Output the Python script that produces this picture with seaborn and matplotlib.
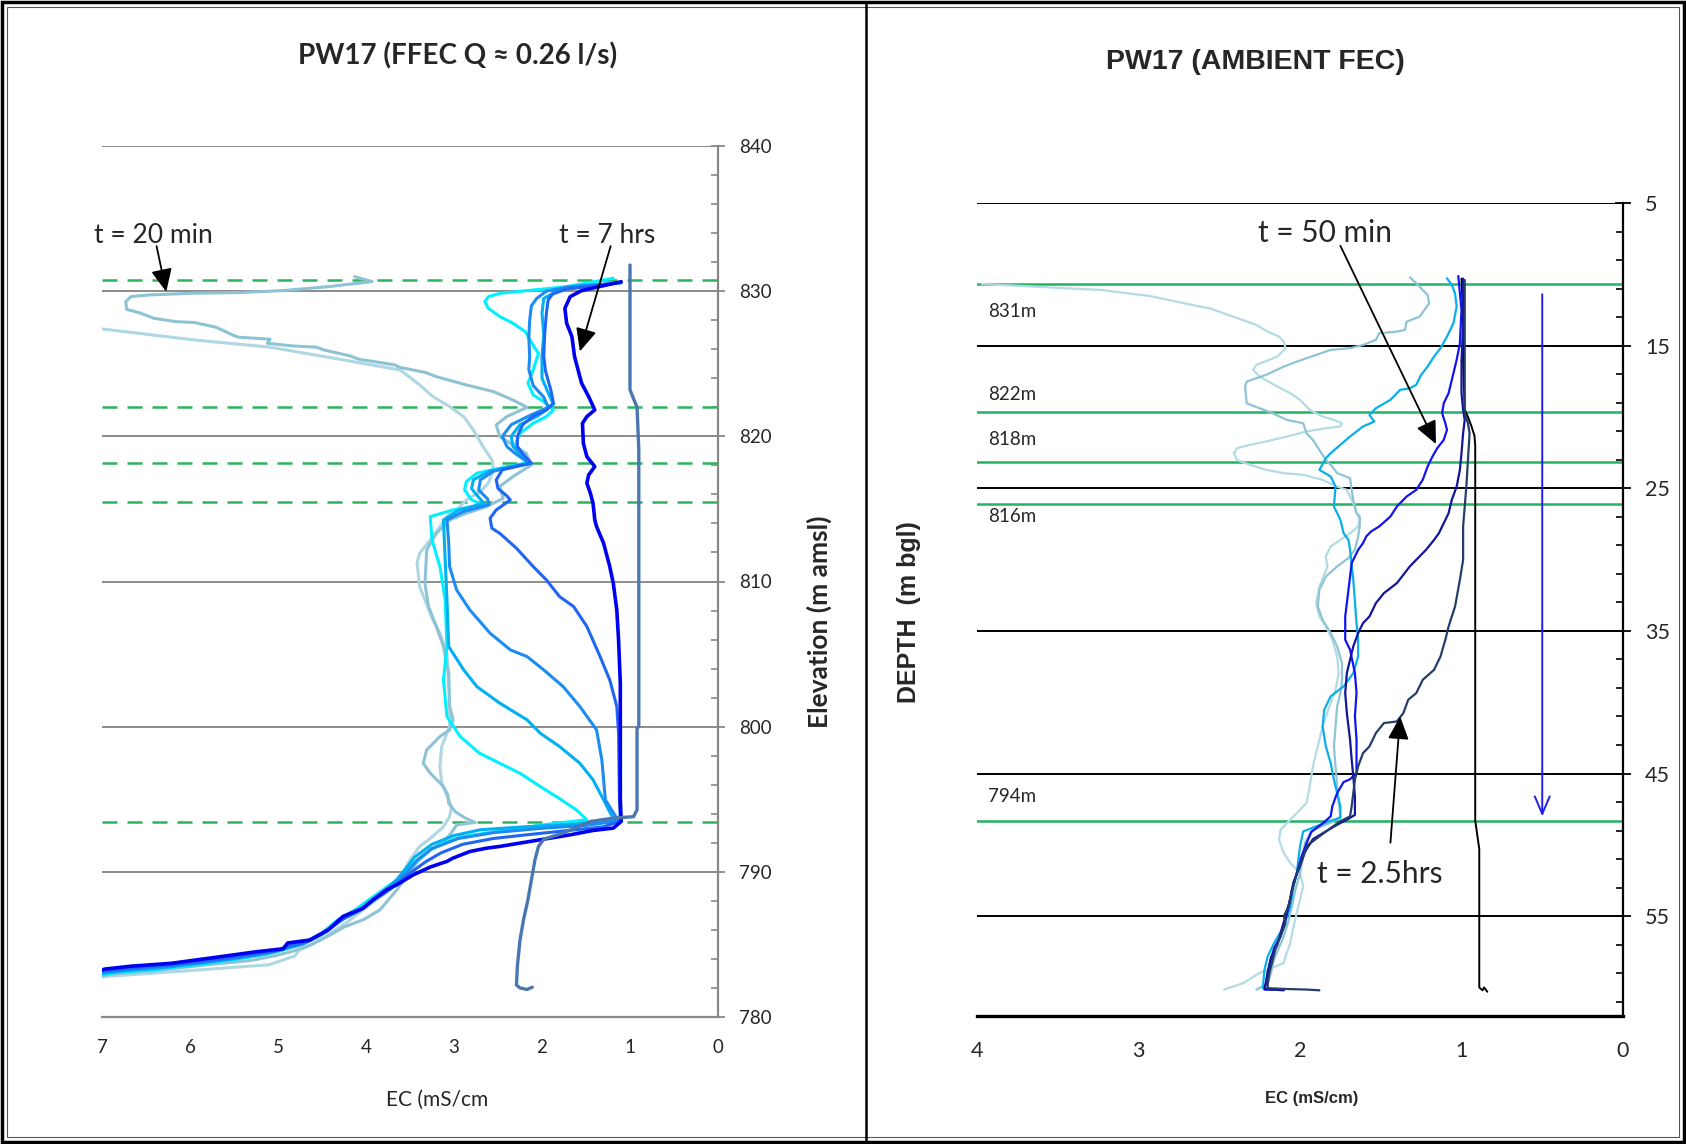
import numpy as np
import pandas as pd
import matplotlib
matplotlib.use("Agg")
import matplotlib.pyplot as plt
import seaborn as sns
from matplotlib.ticker import MultipleLocator, FixedLocator
from matplotlib.patches import Rectangle
from matplotlib.lines import Line2D

sns.set_style("white")
plt.rcParams['font.family'] = ['Lato', 'DejaVu Sans']

# ---------------- LEFT PANEL DATA (elevation m amsl, EC mS/cm) ----------------
ffec_blue = [(830.65,1.10),(830.04,1.55),(829.62,1.68),(828.82,1.74),(827.79,1.72),(826.87,1.66),(825.49,1.63),
    (823.66,1.55),(822.74,1.47),(821.82,1.40),(821.36,1.49),(820.9,1.54),(819.52,1.53),(818.6,1.49),(817.92,1.40),
    (817.34,1.47),(816.77,1.49),(816.08,1.45),(815.39,1.42),(814.24,1.40),(813.78,1.38),(812.64,1.30),(811.03,1.23),
    (809.88,1.19),(808.04,1.15),(805.98,1.13),(802.99,1.11),(799.55,1.11),(794.96,1.11),(793.47,1.10),(793.01,1.19),
    (792.85,1.42),(792.55,1.68),(792.25,1.98),(792.09,2.14),(791.75,2.48),(791.63,2.63),(791.4,2.82),(790.95,3.01),
    (790.72,3.08),(790.33,3.27),(789.8,3.46),(789.11,3.65),(788.76,3.77),(788.07,3.92),(787.5,4.03),(786.93,4.26),
    (786.0,4.43),(785.3,4.64),(785.1,4.89),(784.7,4.94),(784.5,5.24),(784.2,5.60),(783.7,6.21),(783.5,6.67),
    (783.3,6.97),(783.1,7.05)]
ffec_midblue = [(830.59,1.10),(830.15,1.72),(829.8,1.88),(829.4,1.93),(828.5,1.95),(827.0,1.97),(825.5,1.98),
    (824.5,1.96),(823.2,1.90),(822.3,1.87),(821.8,1.95),(821.4,2.10),(820.8,2.22),(820.0,2.28),(819.3,2.28),
    (818.8,2.22),(818.15,2.12),(817.7,2.45),(817.0,2.52),(816.4,2.50),(815.9,2.40),(815.62,2.36),(814.93,2.52),
    (814.36,2.59),(813.67,2.57),(813.32,2.48),(812.29,2.29),(811.03,2.10),(810.11,1.95),(808.96,1.80),(808.27,1.64),
    (806.9,1.49),(804.83,1.34),(803.22,1.23),(801.39,1.15),(799.55,1.13),(794.96,1.12),(793.5,1.11),(793.1,1.30),
    (792.85,1.70),(792.6,2.10),(792.3,2.55),(791.9,2.90),(791.3,3.15),(790.7,3.32),(790.0,3.48),(789.3,3.62),
    (788.7,3.75),(788.1,3.90),(787.4,4.06),(786.8,4.25),(785.9,4.45),(785.2,4.66),(784.9,4.88),(784.6,5.00),
    (784.3,5.30),(784.0,5.65),(783.6,6.20),(783.35,6.70),(783.15,7.05)]
ffec_dodger = [(830.59,1.10),(830.3,1.70),(830.0,1.95),(829.5,2.06),(829.0,2.12),(828.0,2.14),(826.8,2.15),
    (825.5,2.14),(824.6,2.15),(823.5,2.10),(822.7,1.98),(822.0,1.93),(821.4,2.15),(820.8,2.35),(820.0,2.45),
    (819.3,2.40),(818.8,2.30),(818.15,2.14),(817.6,2.55),(817.0,2.70),(816.3,2.72),(815.7,2.62),(815.3,2.60),
    (814.8,2.90),(814.24,3.08),(812.64,3.06),(811.03,3.05),(809.42,2.97),(808.04,2.82),(806.44,2.59),(805.29,2.36),
    (804.83,2.17),(803.91,1.98),(802.76,1.76),(801.39,1.57),(799.78,1.38),(797.71,1.32),(794.96,1.28),(793.5,1.13),
    (793.2,1.50),(793.0,2.00),(792.7,2.55),(792.3,2.95),(791.6,3.25),(790.8,3.42),(790.0,3.53),(789.3,3.65),
    (788.6,3.78),(788.0,3.93),(787.3,4.08),(786.7,4.28),(785.8,4.48),(785.1,4.70),(784.8,4.90),(784.5,5.05),
    (784.2,5.35),(783.9,5.70),(783.5,6.25),(783.25,6.75),(783.05,7.05)]
ffec_deepsky = [(830.59,1.10),(830.1,1.80),(829.5,1.98),(828.5,2.00),(827.0,1.98),(825.5,2.00),(824.0,2.00),
    (823.0,1.93),(822.2,1.87),(821.4,2.05),(820.8,2.25),(820.0,2.35),(819.3,2.33),(818.8,2.25),(818.15,2.16),
    (817.6,2.60),(817.0,2.78),(816.4,2.80),(815.8,2.72),(815.4,2.66),(814.9,2.95),(814.24,3.12),(808.73,3.08),
    (805.52,3.06),(803.91,2.89),(802.76,2.74),(801.62,2.48),(800.47,2.17),(799.55,2.02),(798.63,1.80),(797.48,1.57),
    (796.34,1.42),(794.96,1.30),(794.0,1.22),(793.5,1.17),(793.3,1.60),(793.1,2.20),(792.9,2.70),(792.5,3.00),
    (791.9,3.25),(791.0,3.45),(790.2,3.55),(789.4,3.66),(788.7,3.79),(788.0,3.95),(787.3,4.10),(786.6,4.30),
    (785.7,4.50),(785.0,4.72),(784.7,4.92),(784.4,5.10),(784.1,5.40),(783.8,5.75),(783.4,6.30),(783.15,6.80),
    (782.95,7.05)]
ffec_cyan = [(830.89,1.19),(830.31,1.72),(830.08,2.10),(829.85,2.48),(829.62,2.61),(829.28,2.65),(828.82,2.61),
    (828.25,2.48),(827.79,2.33),(827.21,2.19),(826.07,2.08),(825.72,2.04),(824.57,2.10),(823.66,2.16),(822.85,2.10),
    (822.39,1.98),(821.82,1.87),(821.36,1.95),(820.9,2.10),(820.21,2.25),(819.29,2.31),(818.6,2.25),(818.19,2.16),
    (817.8,2.48),(817.46,2.74),(816.88,2.86),(816.31,2.88),(815.62,2.80),(815.28,2.67),(814.93,3.01),(814.47,3.27),
    (812.87,3.25),(811.03,3.16),(808.73,3.10),(805.52,3.08),(803.22,3.12),(800.7,3.08),(799.32,2.93),(798.17,2.71),
    (797.48,2.48),(796.79,2.25),(795.88,2.02),(794.96,1.78),(794.27,1.61),(793.59,1.49),(793.24,1.98),(792.78,2.52),
    (792.44,2.89),(792.09,3.08),(791.52,3.27),(790.6,3.46),(789.45,3.65),(788.8,3.80),(788.1,3.96),(787.4,4.12),
    (786.7,4.32),(785.7,4.52),(785.0,4.75),(784.6,4.95),(784.3,5.15),(784.0,5.45),(783.7,5.80),(783.3,6.35),
    (783.05,6.85),(782.85,7.05)]
ffec_20min = [(831.0,4.13),(830.66,3.93),(830.31,4.43),(830.04,4.94),(829.9,5.45),(829.86,5.95),(829.74,6.46),
    (829.63,6.67),(829.28,6.73),(828.75,6.72),(828.48,6.56),(828.13,6.41),(827.9,6.16),(827.84,5.95),(827.51,5.70),
    (826.99,5.52),(826.83,5.45),(826.69,5.09),(826.41,5.12),(826.23,4.84),(826.14,4.56),(825.95,4.48),(825.54,4.18),
    (825.31,4.08),(824.92,3.67),(824.76,3.62),(824.39,3.32),(824.11,3.20),(823.54,2.86),(823.08,2.55),(822.5,2.33),
    (822.0,2.17),(821.36,2.40),(820.79,2.52),(819.98,2.48),(819.41,2.33),(818.83,2.18),(818.03,2.12),(817.23,2.33),
    (816.54,2.48),(815.73,2.44),(815.16,2.63),(814.7,2.86),(814.24,3.05),(813.32,3.20),(812.18,3.31),(809.88,3.33),
    (808.27,3.29),(806.9,3.20),(805.52,3.12),(803.68,3.06),(801.39,3.05),(800.47,3.01),(799.78,3.05),(799.32,3.16),
    (798.4,3.31),(797.48,3.35),(796.8,3.27),(795.88,3.12),(795.3,3.07),(794.73,3.06),(794.16,2.99),(793.7,2.87),
    (793.4,2.76),(793.24,2.97),(792.67,3.03),(792.09,3.12),(791.52,3.27),(790.72,3.41),(789.68,3.54),(788.76,3.65),
    (787.39,3.84),(786.7,4.03),(786.2,4.25),(785.5,4.45),(784.9,4.65),(784.5,4.85),(784.2,5.05),(783.9,5.30),
    (783.6,5.80),(783.2,6.40),(782.95,6.90),(782.8,7.05)]
ffec_light = [(827.75,7.6),(827.4,7.0),(826.64,5.95),(826.14,5.09),(825.45,4.43),(824.57,3.61),(823.54,3.39),
    (822.74,3.24),(822.05,3.05),(821.36,2.89),(820.44,2.78),(819.29,2.67),(818.38,2.57),(817.69,2.55),(816.77,2.61),
    (816.19,2.70),(815.62,2.86),(814.93,2.97),(814.7,3.05),(813.1,3.24),(811.95,3.39),(811.26,3.42),(809.65,3.39),
    (808.73,3.33),(807.36,3.24),(806.44,3.16),(805.06,3.08),(801.85,3.05),(800.0,3.05),(798.63,3.14),(797.26,3.16),
    (796.1,3.14),(794.96,3.06),(794.5,3.03),(793.8,3.05),(793.1,3.12),(792.3,3.27),(791.75,3.39),(790.83,3.50),
    (789.68,3.61),(788.8,3.72),(788.0,3.90),(787.3,4.05),(786.6,4.20),(785.8,4.40),(785.0,4.62),(784.6,4.76),
    (784.2,4.81),(783.6,5.10),(783.2,6.00),(782.75,7.05)]
ambient_steel = [(831.8,1.00),(823.2,1.00),(822.9,0.98),(822.0,0.92),(819.1,0.90),(800.0,0.90),(799.9,0.92),
    (794.27,0.92),(793.8,0.96),(793.7,1.19),(793.47,1.45),(792.67,1.76),(792.25,1.98),(791.75,2.04),(790.83,2.08),
    (789.45,2.12),(788.07,2.16),(786.7,2.21),(785.3,2.25),(783.5,2.28),(782.2,2.29),(782.0,2.25),(781.9,2.17),
    (782.05,2.11)]
left_dashed_elev = [830.75, 822.0, 818.15, 815.47, 793.45]

# ---------------- RIGHT PANEL DATA (depth m bgl, EC mS/cm) ----------------
amb_black = [(10.3,1.00),(13.0,0.99),(16.0,0.99),(19.5,0.98),(20.0,0.96),(20.6,0.94),(21.3,0.92),(22.0,0.915),
    (48.3,0.915),(50.3,0.89),(60.0,0.89),(60.2,0.87),(60.0,0.86),(60.3,0.84)]
amb_r1 = [(10.68,3.97),(11.1,3.23),(11.52,2.93),(12.26,2.62),(12.38,2.56),(13.55,2.27),(14.02,2.20),(14.37,2.13),
    (14.72,2.10),(15.18,2.09),(15.77,2.14),(16.35,2.27),(16.7,2.29),(17.17,2.25),(17.87,2.14),(18.34,2.06),
    (18.8,2.00),(19.51,1.94),(19.97,1.86),(20.21,1.79),(20.44,1.74),(20.67,1.75),(20.79,1.84),(21.02,1.96),
    (21.37,2.08),(21.72,2.21),(21.96,2.31),(22.19,2.39),(22.54,2.41),(23.01,2.39),(23.36,2.31),(23.71,2.21),
    (23.94,2.10),(24.06,1.98),(24.41,1.86),(24.88,1.77),(25.11,1.71),(26.05,1.67),(26.75,1.65),(27.21,1.63),
    (27.68,1.64),(28.15,1.69),(28.62,1.75),(29.08,1.81),(29.78,1.84),(30.5,1.83),(31.89,1.88),(33.05,1.90),
    (33.99,1.88),(34.69,1.84),(35.62,1.80),(36.79,1.77),(37.96,1.76),(39.13,1.78),(40.06,1.81),(41.7,1.86),
    (43.1,1.89),(44.5,1.92),(45.9,1.94),(47.07,1.96),(48.0,2.04),(48.94,2.12),(49.64,2.13),(50.58,2.10),
    (51.28,2.06),(51.98,2.00),(52.91,1.98),(53.85,2.00),(54.78,2.02),(55.72,2.04),(56.88,2.06),(57.82,2.09),
    (58.28,2.10),(58.98,2.25),(59.69,2.35),(60.15,2.47)]
amb_r2 = [(10.21,1.32),(10.63,1.28),(11.45,1.21),(12.03,1.20),(12.97,1.26),(13.32,1.34),(13.9,1.35),(14.02,1.40),
    (14.13,1.51),(14.6,1.53),(14.95,1.61),(15.18,1.69),(15.3,1.81),(15.65,1.90),(16.12,2.02),(16.47,2.10),
    (17.05,2.21),(17.52,2.33),(17.87,2.34),(19.04,2.33),(19.39,2.25),(19.74,2.17),(20.21,2.08),(20.44,1.98),
    (21.14,1.96),(21.61,1.92),(22.31,1.88),(23.01,1.84),(23.48,1.80),(23.94,1.77),(24.29,1.69),(25.11,1.68),
    (25.81,1.67),(26.75,1.65),(26.98,1.63),(27.68,1.63),(28.38,1.64),(29.3,1.66),(29.9,1.70),(30.48,1.77),
    (31.19,1.84),(32.12,1.88),(33.29,1.89),(34.22,1.86),(35.16,1.81),(36.09,1.77),(37.26,1.74),(38.43,1.74),
    (39.36,1.75),(40.3,1.77),(41.7,1.78),(43.1,1.79),(44.5,1.78),(45.9,1.77),(47.07,1.76),(48.0,1.75),
    (48.4,1.80),(49.0,1.93),(49.9,1.97),(50.8,1.98),(52.0,2.00),(53.2,2.03),(54.3,2.05),(55.3,2.07),(56.4,2.10),
    (57.2,2.13),(58.0,2.16),(59.0,2.18),(59.7,2.20),(60.15,2.27)]
amb_r3 = [(10.28,1.09),(10.75,1.06),(11.33,1.04),(12.26,1.03),(13.43,1.05),(14.37,1.09),(15.18,1.13),(15.77,1.17),
    (16.47,1.21),(17.05,1.25),(17.75,1.28),(17.99,1.32),(18.1,1.38),(18.8,1.44),(19.39,1.53),(19.86,1.57),
    (20.32,1.54),(20.67,1.61),(21.37,1.69),(22.54,1.81),(22.89,1.84),(23.71,1.88),(24.18,1.81),(24.88,1.78),
    (26.28,1.79),(27.21,1.75),(28.15,1.73),(28.62,1.70),(29.32,1.69),(31.42,1.67),(34.46,1.65),(35.62,1.64),
    (36.79,1.64),(37.96,1.67),(38.89,1.73),(39.59,1.81),(40.53,1.85),(41.7,1.86),(43.1,1.84),(44.27,1.81),
    (45.43,1.79),(46.37,1.77),(47.3,1.75),(48.12,1.75),(48.3,1.81),(49.06,1.98),(50.11,2.00),(51.98,2.02),
    (52.91,2.04),(54.31,2.06),(55.72,2.10),(56.88,2.16),(57.82,2.20),(58.75,2.22),(60.04,2.23)]
amb_50min = [(10.12,1.02),(12.5,1.00),(14.83,1.01),(16.0,1.03),(16.94,1.05),(18.34,1.08),(19.04,1.11),(19.74,1.12),
    (20.44,1.10),(20.91,1.09),(21.61,1.11),(22.19,1.15),(22.78,1.18),(23.48,1.21),(24.41,1.24),(25.11,1.28),
    (25.58,1.34),(26.28,1.40),(26.98,1.44),(27.68,1.51),(28.03,1.56),(28.38,1.59),(28.85,1.61),(29.32,1.64),
    (30.25,1.68),(32.12,1.70),(33.99,1.72),(35.62,1.72),(36.32,1.69),(37.96,1.66),(39.36,1.65),(40.99,1.66),
    (42.63,1.65),(44.97,1.65),(45.4,1.69),(45.6,1.73),(46.37,1.77),(47.3,1.80),(48.0,1.81),(48.5,1.86),
    (49.1,1.93),(49.9,1.96),(50.8,1.99),(52.0,2.02),(53.15,2.05),(54.3,2.07),(55.25,2.09),(56.42,2.12),
    (57.23,2.16),(58.05,2.18),(59.0,2.20),(59.7,2.21),(60.15,2.22),(60.15,2.15)]
amb_navy = [(10.3,0.99),(13.67,0.99),(16.0,1.00),(18.34,1.00),(19.5,0.99),(20.21,0.98),(21.14,0.99),(22.54,1.00),
    (23.71,1.01),(24.88,1.03),(25.81,1.06),(26.75,1.08),(27.45,1.11),(28.15,1.14),(28.62,1.17),(29.32,1.22),
    (29.78,1.26),(30.48,1.32),(31.65,1.40),(32.35,1.48),(33.05,1.53),(33.99,1.57),(34.46,1.61),(35.16,1.64),
    (36.09,1.67),(37.02,1.69),(37.96,1.71),(39.36,1.72),(40.76,1.71),(42.63,1.69),(44.03,1.68),(45.2,1.67),
    (46.6,1.66),(47.9,1.66),(48.24,1.71),(48.59,1.77),(49.06,1.84),(49.6,1.92),(50.5,1.97),(51.5,2.00),
    (52.6,2.04),(53.8,2.06),(55.0,2.09),(56.2,2.12),(57.0,2.14),(57.9,2.18),(58.9,2.20),(59.6,2.21),(60.1,2.22),
    (60.2,2.10)]
amb_2_5hrs = [(10.4,0.98),(16.0,0.98),(19.74,0.98),(20.44,0.96),(21.14,0.95),(23.01,0.96),(24.88,0.97),(26.28,0.98),
    (27.68,0.99),(29.32,0.99),(30.02,0.99),(31.42,1.01),(33.29,1.04),(34.69,1.08),(35.62,1.10),(36.79,1.13),
    (37.73,1.17),(38.43,1.24),(39.36,1.28),(39.83,1.33),(40.76,1.36),(41.35,1.40),(41.46,1.48),(42.16,1.53),
    (43.1,1.57),(43.57,1.61),(44.5,1.64),(45.43,1.66),(46.37,1.67),(47.3,1.68),(48.0,1.69),(48.35,1.75),
    (48.82,1.81),(49.41,1.88),(50.0,1.95),(50.8,1.98),(52.0,2.02),(53.2,2.05),(54.3,2.07),(55.0,2.10),
    (55.5,2.09),(56.4,2.12),(57.2,2.15),(58.1,2.17),(59.0,2.19),(59.8,2.20),(60.05,2.20),(60.1,2.10),
    (60.15,1.95),(60.2,1.88)]
right_green_depth = [10.68, 19.63, 23.17, 26.11, 48.3]
right_green_labels = ["831m", "822m", "818m", "816m", "794m"]
right_label_depth = [12.6, 18.4, 21.6, 27.0, 46.6]

# ---------------- FIGURE ----------------
W, H = 1686, 1144
fig = plt.figure(figsize=(W / 100, H / 100), dpi=100)
fig.patch.set_facecolor("white")

def fx(px):
    return px / W

def fy(py):
    return 1 - py / H

axL = fig.add_axes([fx(102), fy(1017), fx(616), 871 / H])
axR = fig.add_axes([fx(977), fy(1016), fx(646), 813 / H])


def draw(ax, data, color, lw, zorder=3):
    df = pd.DataFrame(data, columns=["y", "ec"])
    sns.lineplot(data=df, x="ec", y="y", ax=ax, sort=False, estimator=None,
                 color=color, lw=lw, zorder=zorder, legend=False)


ARROW = dict(arrowstyle="-|>,head_length=0.7,head_width=0.32", color="black", lw=1.3,
             mutation_scale=20, shrinkA=0, shrinkB=0)

# ----- left panel -----
axL.set_xlim(7, 0)
axL.set_ylim(780, 840)
for e in left_dashed_elev:
    axL.axhline(e, color="#2DB35E", lw=1.8, ls=(0, (6, 4)), zorder=2)
for e in [790, 800, 810, 820, 830, 840]:
    axL.axhline(e, color="#8C8C8C", lw=1.4, zorder=1)

left_series = [
    (ffec_light, "#AFD6E3", 2.2),
    (ffec_20min, "#8DC3D5", 2.2),
    (ffec_cyan, "#00F0FF", 2.2),
    (ffec_deepsky, "#00B0F0", 2.2),
    (ffec_dodger, "#1A8CF2", 2.2),
    (ffec_midblue, "#1F66F5", 2.2),
    (ffec_blue, "#0000F0", 2.6),
    (ambient_steel, "#4A77B2", 2.4),
]
for data, c, lw in left_series:
    draw(axL, data, c, lw)

axL.yaxis.tick_right()
axL.yaxis.set_label_position("right")
axL.set_yticks([780, 790, 800, 810, 820, 830, 840])
axL.yaxis.set_minor_locator(MultipleLocator(2))
axL.set_xticks(range(0, 8))
axL.tick_params(axis="y", which="major", direction="inout", length=10, width=1.3, color="#888888",
                labelsize=13.5, pad=10, right=True, left=False)
axL.tick_params(axis="y", which="minor", direction="in", length=5, width=1.2, color="#888888",
                right=True, left=False)
axL.tick_params(axis="x", which="major", direction="out", length=7, width=1.3, color="#888888",
                labelsize=13.5, pad=9)
for s in ["left", "top"]:
    axL.spines[s].set_visible(False)
for s in ["right", "bottom"]:
    axL.spines[s].set_color("#888888")
    axL.spines[s].set_linewidth(1.6)
axL.set_xlabel("")
axL.set_ylabel("")

axL.text(6.42, 833.32, "t = 20 min", fontsize=19, ha="center", va="baseline")
axL.annotate("", xy=(6.27, 829.95), xytext=(6.38, 833.1), arrowprops=ARROW)
axL.text(1.256, 833.32, "t = 7 hrs", fontsize=19, ha="center", va="baseline")
axL.annotate("", xy=(1.57, 825.85), xytext=(1.22, 833.1), arrowprops=ARROW)

fig.text(fx(458), fy(56), "PW17 (FFEC Q \u2248 0.26 l/s)", fontsize=20, fontweight="bold",
         ha="center", va="center")
fig.text(fx(437), fy(1100), "EC (mS/cm", fontsize=15, ha="center", va="center")
fig.text(fx(819), fy(622), "Elevation (m amsl)", fontsize=19, fontweight="bold", rotation=90,
         ha="center", va="center")

# ----- right panel -----
axR.set_xlim(4, 0)
axR.set_ylim(62, 5)
for d in [5, 15, 25, 35, 45, 55]:
    axR.axhline(d, color="black", lw=1.4, zorder=1)
for d in right_green_depth:
    axR.axhline(d, color="#22B363", lw=1.8, zorder=2)

right_series = [
    (amb_black, "#000000", 1.4),
    (amb_r1, "#B3DBE6", 1.6),
    (amb_r2, "#8FC4D5", 1.6),
    (amb_r3, "#0AAFEA", 1.6),
    (amb_50min, "#1414F0", 1.6),
    (amb_navy, "#14149C", 1.6),
    (amb_2_5hrs, "#233E68", 1.6),
]
for data, c, lw in right_series:
    draw(axR, data, c, lw)

for lab, d in zip(right_green_labels, right_label_depth):
    axR.text(3.93, d, lab, fontsize=13.5, ha="left", va="center")

axR.annotate("", xy=(0.5, 48.0), xytext=(0.5, 11.4),
             arrowprops=dict(arrowstyle="->,head_length=0.7,head_width=0.3", color="#1F1FE6", lw=1.4,
                             mutation_scale=18, shrinkA=0, shrinkB=0))
axR.text(1.845, 7.75, "t = 50 min", fontsize=21.5, ha="center", va="baseline")
axR.annotate("", xy=(1.158, 21.9), xytext=(1.75, 8.0), arrowprops=ARROW)
axR.text(1.505, 52.65, "t = 2.5hrs", fontsize=21.5, ha="center", va="baseline")
axR.annotate("", xy=(1.38, 41.0), xytext=(1.44, 49.85), arrowprops=ARROW)

axR.yaxis.tick_right()
axR.set_yticks([5, 15, 25, 35, 45, 55])
axR.yaxis.set_minor_locator(FixedLocator(list(range(7, 62, 2))))
axR.set_xticks(range(0, 5))
axR.tick_params(axis="y", which="major", direction="inout", length=12, width=1.3, color="black",
                labelsize=15.5, pad=10, right=True, left=False)
axR.tick_params(axis="y", which="minor", direction="in", length=5, width=1.2, color="black",
                right=True, left=False)
axR.tick_params(axis="x", which="major", direction="out", length=8, width=1.6, color="black",
                labelsize=15.5, pad=10)
for s in ["left", "top"]:
    axR.spines[s].set_visible(False)
axR.spines["right"].set_color("black")
axR.spines["right"].set_linewidth(1.6)
axR.spines["bottom"].set_color("black")
axR.spines["bottom"].set_linewidth(2.4)
axR.set_xlabel("")
axR.set_ylabel("")

fig.text(fx(1255), fy(62), "PW17 (AMBIENT FEC)", fontsize=20.5, fontweight="bold",
         family=["Liberation Sans Narrow", "Liberation Sans", "DejaVu Sans"], ha="center", va="center")
fig.text(fx(1312), fy(1099), "EC (mS/cm)", fontsize=12, fontweight="bold",
         family=["Liberation Sans Narrow", "Liberation Sans", "DejaVu Sans"], ha="center", va="center")
fig.text(fx(909), fy(612), "DEPTH  (m bgl)", fontsize=18, fontweight="bold",
         family=["Liberation Sans", "DejaVu Sans"], rotation=90, ha="center", va="center")

# ----- frames -----
fig.add_artist(Rectangle((fx(2), fy(1142)), fx(1682), 1140 / H, transform=fig.transFigure,
                         fill=False, ec="black", lw=2.5))
fig.add_artist(Rectangle((fx(7), fy(1137)), fx(1672), 1130 / H, transform=fig.transFigure,
                         fill=False, ec="#555555", lw=0.8))
fig.add_artist(Line2D([fx(866), fx(866)], [fy(1140), fy(4)], transform=fig.transFigure,
                      color="black", lw=1.8))

fig.savefig("out.png", dpi=100, facecolor="white")
